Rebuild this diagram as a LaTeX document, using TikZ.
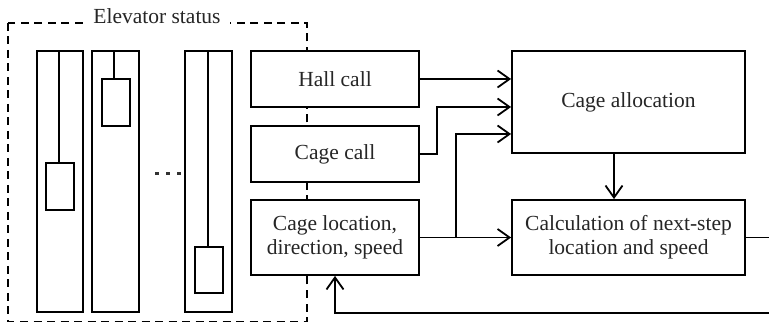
\documentclass[tikz,border=0pt]{standalone}
\usepackage{fontspec}
\setmainfont{Liberation Serif}
\usetikzlibrary{arrows.meta}
\begin{document}
\begin{tikzpicture}[x=1pt,y=-1pt,
  line width=1.8pt,
  box/.style={draw,fill=white,rectangle,inner sep=0pt,align=center,font=\fontsize{21.5}{24}\selectfont,text=black!85},
  arr/.style={-{Straight Barb[length=12pt,width=17pt,line width=1.8pt]}},
  dashbox/.style={draw,dash pattern=on 8pt off 5.5pt},
  shaft/.style={draw},
  dot/.style={fill=black!80}]
\useasboundingbox (0,0) rectangle (769,323);
% dashed group
\draw[dashbox] (8,23) rectangle (307,321.5);
\node[fill=white,inner xsep=9pt,inner ysep=2pt,anchor=base,font=\fontsize{21.5}{24}\selectfont,text=black!85] (title) at (157,23.5) {Elevator status};
% shafts
\draw[shaft] (37,51) rectangle (83,312);
\draw[shaft] (59,51) -- (59,163);
\draw[shaft] (46,163) rectangle (74,210);
\draw[shaft] (92,51) rectangle (139,312);
\draw[shaft] (114,51) -- (114,79);
\draw[shaft] (102,79) rectangle (130,126);
\draw[shaft] (185,51) rectangle (232,312);
\draw[shaft] (208,51) -- (208,247);
\draw[shaft] (195,247) rectangle (223,293);
\fill[dot] (155,172) rectangle (159,175.5);
\fill[dot] (166,172) rectangle (170,175.5);
\fill[dot] (177,172) rectangle (181,175.5);
% boxes
\node[box,minimum width=168pt,minimum height=56pt] (hall) at (335,79) {Hall call};
\node[box,minimum width=168pt,minimum height=56pt] (cc) at (335,154) {Cage call};
\node[box,minimum width=168pt,minimum height=75pt] (loc) at (335,237.5) {Cage location,\\direction, speed};
\node[box,minimum width=233pt,minimum height=102pt] (alloc) at (628.5,102) {Cage allocation};
\node[box,minimum width=233pt,minimum height=75pt] (calc) at (628.5,237.5) {Calculation of next-step\\location and speed};
% connectors
\coordinate (cj) at (437,154);
\coordinate (bj) at (456,237.5);
\coordinate (ad) at (614,153);
\coordinate (fr) at (775,237.5);
\coordinate (fb) at (775,313);
\draw[arr] (hall.east |- 0,79) -- (alloc.west |- 0,79);
\draw[arr] (cc.east) -- (cj) |- (alloc.west |- 0,107);
\draw[arr] (loc.east) -- (calc.west);
\draw[arr] (bj) |- (alloc.west |- 0,134);
\draw[arr] (ad) -- (ad |- calc.north);
\draw[arr] (calc.east) -- (fr) -- (fb) -| (loc.south);
\end{tikzpicture}
\end{document}
